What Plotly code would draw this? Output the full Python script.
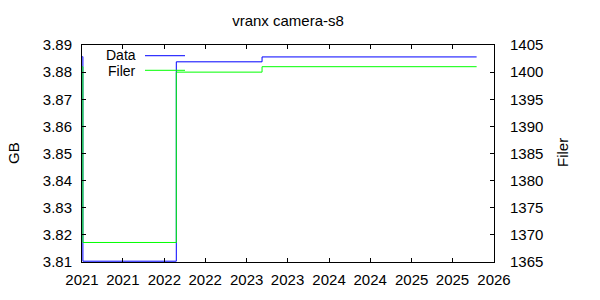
import plotly.graph_objects as go

# Data
dates = ["2021-01-02", "2021-01-05", "2022-02-23", "2023-03-10", "2025-10-16"]
data_gb = [3.8857, 3.8103, 3.8838, 3.8856, 3.8856]
filer = [1401.0, 1368.6, 1400.0, 1401.0, 1401.0]

title_text = "vranx camera-s8"
series_names = ["Data", "Filer"]
colors = ["#0000ff", "#00ff00"]

FONT = "Liberation Sans, Arial, sans-serif"
FS = 15

fig = go.Figure()
fig.add_trace(go.Scatter(x=dates, y=data_gb, mode="lines", line_shape="hv",
                         line=dict(color=colors[0], width=1), name=series_names[0],
                         yaxis="y", showlegend=False))
fig.add_trace(go.Scatter(x=dates, y=filer, mode="lines", line_shape="hv",
                         line=dict(color=colors[1], width=1), name=series_names[1],
                         yaxis="y2", showlegend=False))

L, R, T, B = 82, 494, 45, 268
W, H = 600, 300
pw, ph = R - L, B - T

def px_x(p):
    return (p - L) / pw

def px_y(p):
    return (B - p) / ph

# Gnuplot-style key: text left, sample line right
for name, col, ypix, typix in zip(series_names, colors, [56, 71], [55.5, 71.5]):
    fig.add_annotation(x=px_x(137), y=px_y(typix), xref="paper", yref="paper",
                       text=name, showarrow=False, xanchor="right", yanchor="middle",
                       borderpad=0,
                       font=dict(family=FONT, size=14, color="black"))
    fig.add_shape(type="line", xref="paper", yref="paper",
                  x0=px_x(145), x1=px_x(185), y0=px_y(ypix), y1=px_y(ypix),
                  line=dict(color=col, width=1))

# Axis titles
fig.add_annotation(x=px_x(13), y=px_y(156), xref="paper", yref="paper", text="GB",
                   textangle=-90, showarrow=False, xanchor="center", yanchor="middle",
                   font=dict(family=FONT, size=FS, color="black"))
fig.add_annotation(x=px_x(562), y=px_y(156), xref="paper", yref="paper", text="Filer",
                   textangle=-90, showarrow=False, xanchor="center", yanchor="middle",
                   font=dict(family=FONT, size=FS, color="black"))

axis_common = dict(showgrid=False, zeroline=False, showline=True, linecolor="black",
                   linewidth=1, ticks="inside", ticklen=4, tickcolor="black",
                   tickfont=dict(family=FONT, size=FS, color="black"))

fig.update_layout(
    width=W, height=H,
    margin=dict(l=L, r=W - R, t=T, b=H - B, pad=0),
    paper_bgcolor="white", plot_bgcolor="white",
    title=dict(text=title_text, x=(L + R) / 2 / W, xanchor="center",
               y=1 - 21 / H, yanchor="middle", yref="container",
               font=dict(family=FONT, size=FS, color="black")),
    xaxis=dict(type="date", range=["2021-01-01", "2026-01-01"], tick0="2021-01-01",
               dtick="M6", tickformat="%Y", mirror="ticks", ticklabelstandoff=4,
               **axis_common),
    yaxis=dict(range=[3.81, 3.89], dtick=0.01, tickformat=".2f", ticklabelstandoff=6,
               **axis_common),
    yaxis2=dict(range=[1365, 1405], dtick=5, overlaying="y", side="right",
                ticklabelstandoff=12, **axis_common),
    font=dict(family=FONT, size=FS, color="black"),
)

fig.write_html("out.html")
